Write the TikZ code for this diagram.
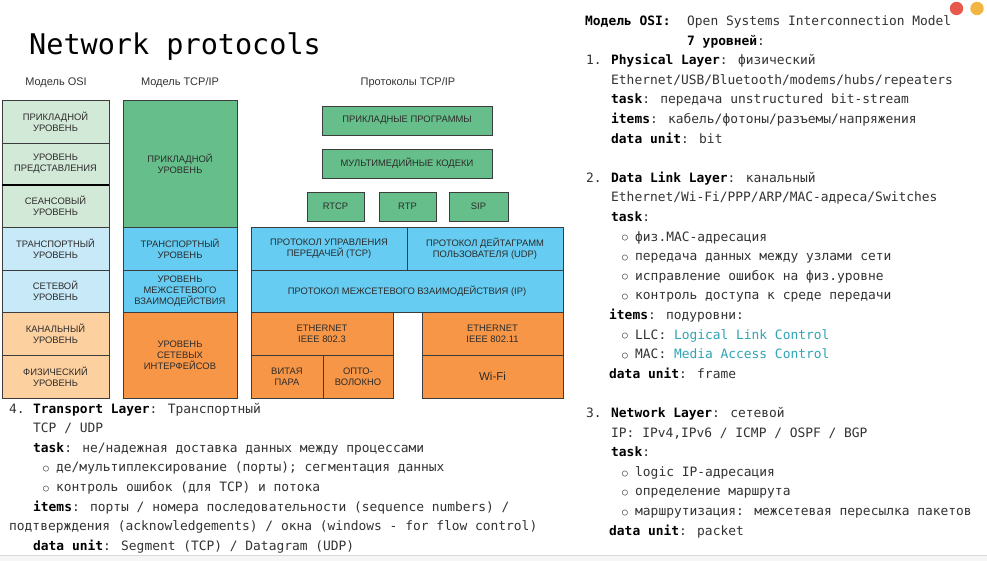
\documentclass[tikz,border=0pt]{standalone}
\usepackage{fontspec}
\setmainfont{Liberation Sans}
\newfontfamily\monof{DejaVu Sans Mono}
\definecolor{osigreen}{HTML}{D3E9D7}
\definecolor{osiblue}{HTML}{C8E9F8}
\definecolor{osiorange}{HTML}{FDD09F}
\definecolor{tgreen}{HTML}{66BF8A}
\definecolor{tblue}{HTML}{66CCF2}
\definecolor{torange}{HTML}{F79646}
\definecolor{boxline}{HTML}{3C3C3C}
\definecolor{boxtext}{HTML}{2C2C2C}
\definecolor{txtgray}{HTML}{333333}
\definecolor{linkteal}{HTML}{2FA4B5}
\definecolor{bottomgray}{HTML}{F6F6F6}
\definecolor{sepgray}{HTML}{D8D8D8}
\definecolor{dotred}{HTML}{E8594D}
\definecolor{dotorange}{HTML}{F2B542}
\newcommand\kwd[1]{{\bfseries\color{black}#1}}
\newcommand\blt{\makebox[13pt][l]{\raisebox{0.3pt}{\fontsize{9.5}{9.5}\selectfont ○}}}
\newcommand\layerbox[7]{\node[lbox,fill=#6,minimum width={(#4-#2)*1pt},minimum height={(#5-#3)*1pt}] (#1) at ({(#2+#4)/2},{(#3+#5)/2}) {#7};}
\tikzset{
  lbox/.style={draw=boxline,line width=0.8pt,inner sep=0pt,align=center,text=boxtext,font=\fontsize{9.4}{10.8}\selectfont},
  hdr/.style={inner sep=0pt,text=txtgray,font=\fontsize{11}{12}\selectfont},
  mtxt/.style={anchor=base west,inner sep=0pt,text=txtgray,font=\monof\fontsize{12.9}{15}\selectfont},
  ttl/.style={anchor=base west,inner sep=0pt,text=black,font=\monof\fontsize{28.5}{32}\selectfont},
}
\begin{document}
\begin{tikzpicture}[x=1pt,y=-1pt]
\useasboundingbox (0,0) rectangle (987,561);
\fill[white] (0,0) rectangle (987,561);
\fill[bottomgray] (0,555) rectangle (987,561);
\draw[sepgray,line width=1pt] (0,555) -- (987,555);
% window dots
\fill[dotred] (956.5,8.5) circle (6.7);
\fill[dotorange] (977,8.5) circle (6.7);
% title
\node[ttl] (title) at (29,55) {Network protocols};
% headers
\node[hdr] (hosi) at (56,83) {Модель OSI};
\node[hdr] (htcp) at (180,83) {Модель TCP/IP};
\node[hdr] (hprot) at (408,83) {Протоколы TCP/IP};
% OSI model
\layerbox{osi1}{2}{100}{109}{143}{osigreen}{ПРИКЛАДНОЙ\\УРОВЕНЬ}
\layerbox{osi2}{2}{143}{109}{185}{osigreen}{УРОВЕНЬ\\ПРЕДСТАВЛЕНИЯ}
\layerbox{osi3}{2}{185}{109}{227}{osigreen}{СЕАНСОВЫЙ\\УРОВЕНЬ}
\layerbox{osi4}{2}{227}{109}{270}{osiblue}{ТРАНСПОРТНЫЙ\\УРОВЕНЬ}
\layerbox{osi5}{2}{270}{109}{312}{osiblue}{СЕТЕВОЙ\\УРОВЕНЬ}
\layerbox{osi6}{2}{312}{109}{355}{osiorange}{КАНАЛЬНЫЙ\\УРОВЕНЬ}
\layerbox{osi7}{2}{355}{109}{398}{osiorange}{ФИЗИЧЕСКИЙ\\УРОВЕНЬ}
\draw[black,line width=1.8pt] (osi2.south west) -- (osi2.south east);
% TCP/IP model
\layerbox{tcp1}{123}{100}{237}{227}{tgreen}{ПРИКЛАДНОЙ\\УРОВЕНЬ}
\layerbox{tcp2}{123}{227}{237}{270}{tblue}{ТРАНСПОРТНЫЙ\\УРОВЕНЬ}
\layerbox{tcp3}{123}{270}{237}{312}{tblue}{УРОВЕНЬ\\МЕЖСЕТЕВОГО\\ВЗАИМОДЕЙСТВИЯ}
\layerbox{tcp4}{123}{312}{237}{398}{torange}{УРОВЕНЬ\\СЕТЕВЫХ\\ИНТЕРФЕЙСОВ}
% protocols
\layerbox{papp}{322}{106}{492}{135}{tgreen}{ПРИКЛАДНЫЕ ПРОГРАММЫ}
\layerbox{pcodec}{322}{149}{492}{178}{tgreen}{МУЛЬТИМЕДИЙНЫЕ КОДЕКИ}
\layerbox{prtcp}{307}{192}{364}{221}{tgreen}{RTCP}
\layerbox{prtp}{379}{192}{436}{221}{tgreen}{RTP}
\layerbox{psip}{449}{192}{508}{221}{tgreen}{SIP}
\layerbox{ptcp}{251}{227}{407}{270}{tblue}{ПРОТОКОЛ УПРАВЛЕНИЯ\\ПЕРЕДАЧЕЙ (TCP)}
\layerbox{pudp}{407}{227}{563}{270}{tblue}{ПРОТОКОЛ ДЕЙТАГРАММ\\ПОЛЬЗОВАТЕЛЯ (UDP)}
\layerbox{pip}{251}{270}{563}{312}{tblue}{ПРОТОКОЛ МЕЖСЕТЕВОГО ВЗАИМОДЕЙСТВИЯ (IP)}
\layerbox{peth3}{251}{312}{393}{355}{torange}{ETHERNET\\IEEE 802.3}
\layerbox{ptp}{251}{355}{323}{398}{torange}{ВИТАЯ\\ПАРА}
\layerbox{pfib}{323}{355}{393}{398}{torange}{ОПТО-\\ВОЛОКНО}
\layerbox{peth11}{422}{312}{563}{355}{torange}{ETHERNET\\IEEE 802.11}
\layerbox{pwifi}{422}{355}{563}{398}{torange}{\fontsize{11.5}{12}\selectfont Wi-Fi}
% right column
\node[mtxt] (r0a) at (585,25.5) {\kwd{Модель OSI:}};
\node[mtxt] (r0b) at (687,25.5) {Open Systems Interconnection Model};
\node[mtxt] (r1) at (687,45.1) {\kwd{7 уровней}:};
\node[mtxt] (r2n) at (586,64.7) {1.};
\node[mtxt] (r2) at (611,64.7) {\kwd{Physical Layer}: физический};
\node[mtxt] (r3) at (611,84.3) {Ethernet/USB/Bluetooth/modems/hubs/repeaters};
\node[mtxt] (r4) at (611,103.9) {\kwd{task}: передача unstructured bit-stream};
\node[mtxt] (r5) at (611,123.5) {\kwd{items}: кабель/фотоны/разъемы/напряжения};
\node[mtxt] (r6) at (611,143.1) {\kwd{data unit}: bit};
\node[mtxt] (r8n) at (586,182.3) {2.};
\node[mtxt] (r8) at (611,182.3) {\kwd{Data Link Layer}: канальный};
\node[mtxt] (r9) at (611,201.9) {Ethernet/Wi-Fi/PPP/ARP/MAC-адреса/Switches};
\node[mtxt] (r10) at (611,221.5) {\kwd{task}:};
\node[mtxt] (r11) at (622,241.1) {\blt физ.MAC-адресация};
\node[mtxt] (r12) at (622,260.7) {\blt передача данных между узлами сети};
\node[mtxt] (r13) at (622,280.3) {\blt исправление ошибок на физ.уровне};
\node[mtxt] (r14) at (622,299.9) {\blt контроль доступа к среде передачи};
\node[mtxt] (r15) at (609,319.5) {\kwd{items}: подуровни:};
\node[mtxt] (r16) at (622,339.1) {\blt LLC: {\color{linkteal}Logical Link Control}};
\node[mtxt] (r17) at (622,358.7) {\blt MAC: {\color{linkteal}Media Access Control}};
\node[mtxt] (r18) at (609,378.3) {\kwd{data unit}: frame};
\node[mtxt] (r20n) at (586,417.5) {3.};
\node[mtxt] (r20) at (611,417.5) {\kwd{Network Layer}: сетевой};
\node[mtxt] (r21) at (611,437.1) {IP: IPv4,IPv6 / ICMP / OSPF / BGP};
\node[mtxt] (r22) at (611,456.7) {\kwd{task}:};
\node[mtxt] (r23) at (622,476.3) {\blt logic IP-адресация};
\node[mtxt] (r24) at (622,495.9) {\blt определение маршрута};
\node[mtxt] (r25) at (622,515.5) {\blt маршрутизация: межсетевая пересылка пакетов};
\node[mtxt] (r26) at (609,535.1) {\kwd{data unit}: packet};
% left column
\node[mtxt] (l0n) at (9,413) {4.};
\node[mtxt] (l0) at (33,413) {\kwd{Transport Layer}: Транспортный};
\node[mtxt] (l1) at (33,432.6) {TCP / UDP};
\node[mtxt] (l2) at (33,452.2) {\kwd{task}: не/надежная доставка данных между процессами};
\node[mtxt] (l3) at (43,471.8) {\blt де/мультиплексирование (порты); сегментация данных};
\node[mtxt] (l4) at (43,491.4) {\blt контроль ошибок (для TCP) и потока};
\node[mtxt] (l5) at (33,511) {\kwd{items}: порты / номера последовательности (sequence numbers) /};
\node[mtxt] (l6) at (9,530.6) {подтверждения (acknowledgements) / окна (windows - for flow control)};
\node[mtxt] (l7) at (33,550.2) {\kwd{data unit}: Segment (TCP) / Datagram (UDP)};
\end{tikzpicture}
\end{document}
